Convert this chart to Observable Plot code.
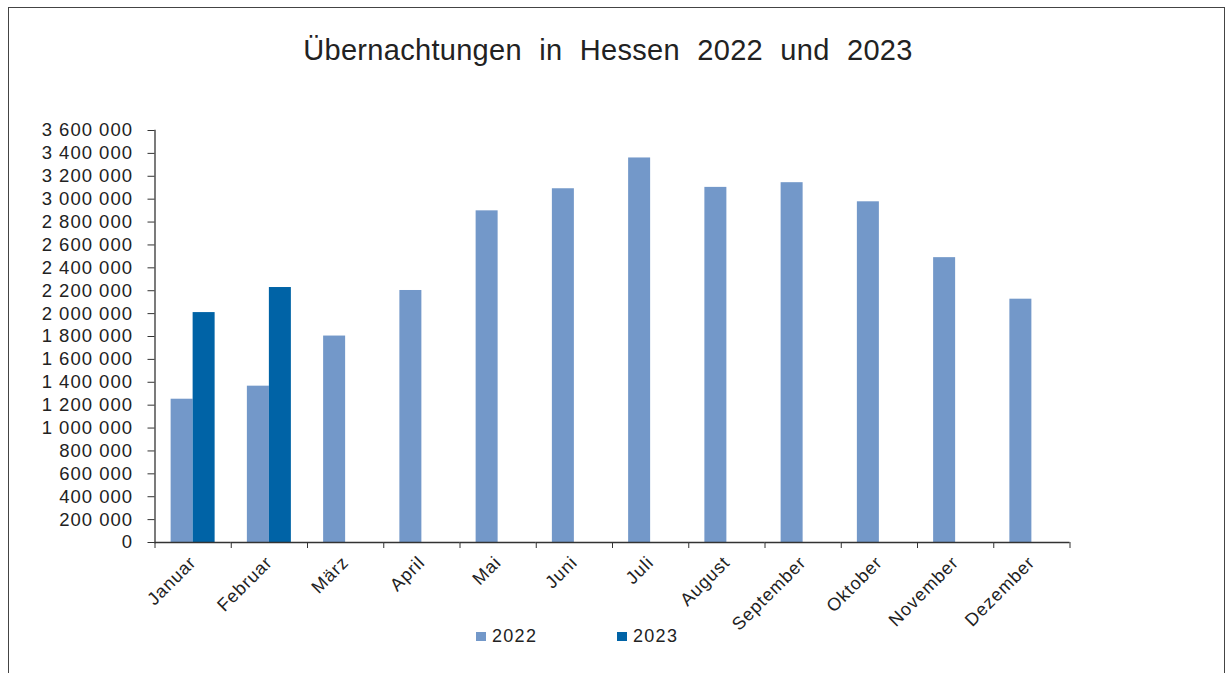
<!DOCTYPE html>
<html>
<head>
<meta charset="utf-8">
<script src="https://cdn.jsdelivr.net/npm/d3@7"></script>
<script src="https://cdn.jsdelivr.net/npm/@observablehq/plot@0.6"></script>
<style>
  html, body { margin: 0; padding: 0; background: #fff; }
  body { width: 1232px; height: 673px; position: relative; overflow: hidden; font-family: "Liberation Sans", Arial, sans-serif; color: #222; }
  #border { position: absolute; left: 8px; top: 7px; width: 1217px; height: 700px; border: 1px solid #444; box-sizing: border-box; }
  #title { position: absolute; left: 0; width: 1216px; top: 34px; text-align: center; font-size: 29px; word-spacing: 9px; letter-spacing: 0.3px; }
  #chart { position: absolute; left: 0; top: 0; }
  #legend { position: absolute; top: 626px; left: 0; width: 1232px; font-size: 18px; letter-spacing: 1.3px; }
  .item { position: absolute; display: flex; align-items: center; }
  .sw { width: 10px; height: 9px; margin-right: 6px; }
  g[aria-label="y-axis tick label"] text { letter-spacing: 1px; }
  g[aria-label="fx-axis tick label"] text { letter-spacing: 0.9px; }
</style>
</head>
<body>
<div id="border"></div>
<div id="chart"></div>
<div id="title"></div>
<div id="legend"></div>
<script>
const titleText = "Übernachtungen in Hessen 2022 und 2023";
const months = ["Januar","Februar","März","April","Mai","Juni","Juli","August","September","Oktober","November","Dezember"];
const years = ["2022","2023"];
const values2022 = [1252000,1366000,1804000,2202000,2898000,3091000,3360000,3103000,3144000,2977000,2489000,2126000];
const values2023 = [2009000,2228000];
const yTicks = [0,200000,400000,600000,800000,1000000,1200000,1400000,1600000,1800000,2000000,2200000,2400000,2600000,2800000,3000000,3200000,3400000,3600000];
const colors = ["#7398c9","#0063a6"];

const data = [];
values2022.forEach((v,i) => data.push({month: months[i], year: "2022", value: v}));
values2023.forEach((v,i) => data.push({month: months[i], year: "2023", value: v}));

const W = 1232, H = 673, ML = 154.5, MR = 162.5, MT = 130, MB = 131;
const band = (W - ML - MR) / months.length;
const fmt = d3.formatLocale({thousands: " ", grouping: [3], decimal: ","}).format(",");

document.getElementById("title").textContent = titleText;

const chart = Plot.plot({
  width: W, height: H,
  marginLeft: ML, marginRight: MR, marginTop: MT, marginBottom: MB,
  style: {fontFamily: "'Liberation Sans', Arial, sans-serif", color: "#222", background: "transparent"},
  fx: {domain: months, padding: 0, round: false, axis: null, label: null},
  x: {domain: years, paddingInner: 0, paddingOuter: 0.733, round: false, axis: null},
  y: {domain: [0, 3600000], axis: null},
  color: {domain: years, range: colors},
  marks: [
    Plot.barY(data, {fx: "month", x: "year", y: "value", fill: "year"}),
    Plot.ruleY([0], {stroke: "#333", strokeWidth: 1.3}),
    Plot.frame({anchor: "left", fx: () => "Januar", stroke: "#333", strokeWidth: 1.3}),
    Plot.axisY({ticks: yTicks, tickSize: 7, tickPadding: 15, tickFormat: fmt, label: null, fontSize: 18.5, stroke: "#333"}),
    Plot.axisFx({anchor: "bottom", tickSize: 6, dx: -band / 2, tickFormat: () => "", label: null, stroke: "#333"}),
    Plot.axisFx({anchor: "bottom", ticks: [months[months.length - 1]], tickSize: 6, dx: band / 2, tickFormat: () => "", label: null, stroke: "#333"}),
    Plot.axisFx({anchor: "bottom", tickSize: 0, tickPadding: 17, tickRotate: -45, fontSize: 18, label: null})
  ]
});
document.getElementById("chart").appendChild(chart);

const legend = document.getElementById("legend");
const legendX = [476, 617];
years.forEach((y, i) => {
  const it = document.createElement("div");
  it.className = "item";
  it.style.left = legendX[i] + "px";
  it.innerHTML = `<span class="sw" style="background:${colors[i]}"></span><span>${y}</span>`;
  legend.appendChild(it);
});
</script>
</body>
</html>
